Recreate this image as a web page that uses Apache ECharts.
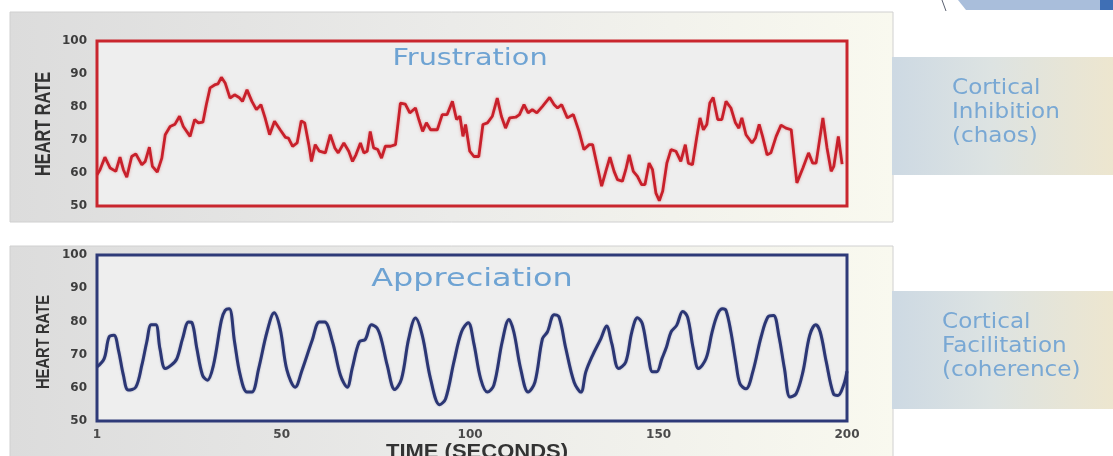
<!DOCTYPE html>
<meta charset="utf-8">
<style>
body { margin: 0; background: #fff; }
#chart { width: 1113px; height: 456px; }
</style>
<body>
<div id="chart"></div>
<script src="https://cdn.jsdelivr.net/npm/echarts@6/dist/echarts.min.js"></script>
<script>
// heart rate (time in seconds, beats per minute)
var frustTime = [1, 1.8, 3.1, 4.5, 6, 7.1, 8, 8.9, 10.2, 11.3, 12.9, 13.8, 14.9, 15.7, 17, 18.2, 19.1, 20.4, 21.7, 22.9,
  23.9, 25.7, 26.9, 27.9, 29.1, 30, 31, 32.4, 33.1, 34, 35, 36.3, 37.5, 38.7, 39.6, 40.8, 42.1, 43.3, 44.5, 45.6,
  46.8, 48.1, 49.6, 51, 51.8, 52.9, 54.1, 55.2, 56.1, 57.2, 57.9, 58.9, 60, 61.6, 62.9, 64.1, 65, 66.5, 67.8, 68.8,
  69.7, 70.9, 71.8, 72.7, 73.5, 74.4, 75.5, 76.5, 77.5, 78.9, 80.2, 81.5, 82.8, 84, 85.5, 86.4, 87.4, 88.4, 89.5, 91.3,
  92.6, 93.9, 95.3, 96.4, 97.3, 98.1, 98.8, 99.9, 101, 102.3, 103.4, 104.6, 105.9, 107.2, 108.3, 109.4, 110.5, 112.1, 113.1, 114.3,
  115.4, 116.5, 117.7, 119.2, 121.1, 122.3, 123.2, 124.3, 125.8, 127.4, 128.9, 130.2, 131.6, 132.5, 134.9, 136, 137.1, 138.2, 139.1, 140.4,
  141.3, 142.2, 143.3, 144.4, 145.5, 146.4, 147.5, 148.4, 149.3, 150.2, 151.1, 152.2, 153.3, 154.6, 155.9, 157.1, 157.9, 159, 160.1, 161,
  161.9, 162.8, 163.6, 164.5, 165.7, 166.8, 167.9, 169.2, 170.4, 171.3, 172.1, 173.2, 174.8, 175.7, 176.7, 177.6, 178.8, 179.8, 181.2, 182.5,
  183.8, 185.2, 186.7, 188.3, 189.8, 190.9, 191.8, 193.6, 194.7, 195.8, 196.5, 197.7, 198.7];
var frustRate = [59.5, 61, 64.8, 61.5, 60.5, 64.8, 61, 58.7, 65, 65.8, 62.5, 63.5, 67.8, 62, 60.3, 64.5, 71.6, 74.1, 74.8, 77.2,
  74.1, 71.1, 76.2, 75.2, 75.4, 80.7, 85.8, 86.8, 87, 89, 87.3, 82.7, 83.7, 82.9, 81.7, 85.2, 81.7, 79.2, 80.7, 76.7,
  71.6, 75.7, 73.1, 70.8, 70.6, 68.1, 69.1, 75.8, 75.2, 68.6, 63.5, 68.6, 66.6, 66.1, 71.6, 67.6, 66.1, 69.1, 66.6, 63.5,
  65.5, 69.1, 66.1, 66.6, 72.6, 67.6, 67.1, 64.5, 68.1, 68.1, 68.6, 81.2, 80.9, 78.2, 79.7, 76.2, 72.6, 75.2, 73.1, 73.1,
  77.7, 77.7, 81.7, 76.2, 77.2, 71.1, 74.7, 66.6, 65, 65, 74.7, 75.2, 77.2, 82.7, 77.2, 73.6, 76.7, 76.9, 77.7, 80.7,
  78.2, 79.2, 78.2, 80.2, 82.9, 80.7, 79.7, 80.7, 76.7, 77.7, 72.6, 67.1, 68.6, 68.6, 56, 60.5, 64.8, 60.5, 58, 57.5,
  61, 65.5, 60.5, 59, 56.5, 56.5, 63, 61, 53.9, 51.6, 54.5, 63, 67.1, 66.6, 63.5, 68.6, 63, 62.5, 70.6, 76.7,
  73.1, 74.7, 81.2, 82.9, 76.2, 76.2, 81.7, 79.7, 75.2, 73.6, 76.7, 71.6, 69.1, 70.6, 74.7, 71.1, 65.5, 66.1, 71.1, 74.5,
  73.6, 73.1, 57, 61.5, 66.1, 63, 63, 76.7, 67.6, 60.5, 62, 71.1, 62.7];

var apprTime = [1, 2.9, 4.2, 5.5, 6.7, 8, 9.3, 11.3, 12.9, 14.2, 15.4, 16.6, 17.7, 19.1, 20.7, 22.2, 23.7, 25.3, 26.2, 27.5,
  29, 30.3, 31.9, 34, 35, 36.1, 37.5, 39, 40.8, 42.1, 43.9, 46.1, 48, 49.6, 51.4, 53.6, 55.4, 58.1, 60, 61.4,
  63.5, 65.6, 67.4, 68.7, 70.6, 72.2, 73.8, 75.3, 76.5, 78, 80, 81.8, 83.7, 85.5, 87.3, 89.5, 91.9, 93.5, 95.7, 97.7,
  99.5, 101, 102.8, 104.6, 106.3, 108.5, 110.3, 111.6, 113.4, 115.4, 117.2, 119.2, 120.5, 122.3, 123.6, 125.4, 127.6, 129.4, 130.7, 132.5,
  134.7, 136.2, 137.6, 139.4, 141.3, 142.9, 144.4, 145.7, 147.1, 148.4, 149.5, 150.9, 152.1, 153.3, 154.8, 156.4, 157.7, 159.2, 160.6, 162.6,
  164.2, 165.7, 167, 167.9, 169.2, 170.5, 171.6, 173.2, 175, 177.2, 179, 180.5, 181.9, 183.4, 184.9, 186.5, 188.3, 190.1, 191.7, 192.9,
  194.5, 196.4, 197.6, 199.1, 200];
var apprRate = [66.3, 68.8, 75.3, 75.8, 71.3, 63.8, 59.3, 60.2, 66.8, 73.8, 79, 79, 71.8, 65.8, 66.8, 68.8, 74.8, 79.8, 79.6, 71.8,
  63.8, 62.3, 66.8, 80.3, 83.3, 83.8, 73.8, 63.8, 58.7, 58.7, 65.8, 76.8, 82.6, 77.8, 65.3, 60.2, 65.3, 74.3, 79.8, 79.8,
  73.8, 63.8, 60.2, 65.8, 73.8, 74.6, 79, 78, 74.3, 66.8, 59.5, 62.7, 74.8, 81, 75.8, 62.7, 54.9, 56.7, 67.8, 76.8,
  79.6, 73.3, 62.7, 58.7, 60.8, 73.8, 80.6, 76.8, 65.8, 58.7, 61.7, 74.8, 76.8, 82, 81.3, 71.8, 61.7, 58.7, 64.8, 69.8,
  74.8, 78.6, 73.3, 65.8, 67.8, 76.8, 81.1, 79.3, 70.8, 64.8, 64.8, 68.8, 72.3, 76.8, 78.8, 83, 81.3, 71.8, 65.8, 68.8,
  76.8, 82.3, 83.8, 83.3, 76.8, 67.8, 61.2, 59.7, 64.8, 75.3, 81.3, 81.8, 75.8, 65.8, 57.2, 58.2, 64.8, 75.8, 79, 76.8,
  67.8, 58.2, 57.7, 60.8, 65];

var timeTicks = [1, 50, 100, 150, 200];
var sideTop = ['Cortical', 'Inhibition', '(chaos)'];
var sideBottom = ['Cortical', 'Facilitation', '(coherence)'];

function pairs(xs, ys) {
  return xs.map(function (x, i) { return [x, ys[i]]; });
}

var chart = echarts.init(document.getElementById('chart'), null, { renderer: 'canvas' });

var panelFill = function () {
  return new echarts.graphic.LinearGradient(0, 0, 1, 0, [
    { offset: 0, color: '#dcdcdc' },
    { offset: 0.5, color: '#ebebe9' },
    { offset: 1, color: '#f9f9ef' }
  ]);
};
var boxFill = function () {
  return new echarts.graphic.LinearGradient(0, 0, 1, 0, [
    { offset: 0, color: '#cdd9e3' },
    { offset: 0.45, color: '#dde3e2' },
    { offset: 1, color: '#ede6cf' }
  ]);
};

var yAxisBase = {
  type: 'value', min: 50, max: 100, interval: 10,
  axisLine: { show: false }, axisTick: { show: false }, splitLine: { show: false },
  axisLabel: { margin: 10, color: '#3d3d3d', fontSize: 12, fontWeight: 'bold', fontFamily: 'DejaVu Sans' }
};

var option = {
  backgroundColor: '#ffffff',
  animation: false,
  grid: [
    { left: 97, top: 41, width: 750, height: 165, show: true, backgroundColor: '#eeeeee',
      borderColor: '#c9262e', borderWidth: 3 },
    { left: 97, top: 255, width: 750, height: 166, show: true, backgroundColor: '#eeeeee',
      borderColor: '#2e3a78', borderWidth: 3 }
  ],
  xAxis: [
    { type: 'value', gridIndex: 0, min: 1, max: 200,
      axisLine: { show: false }, axisTick: { show: false }, axisLabel: { show: false }, splitLine: { show: false } },
    { type: 'value', gridIndex: 1, min: 1, max: 200,
      axisLine: { show: false }, axisTick: { show: false }, splitLine: { show: false },
      axisLabel: { customValues: timeTicks, margin: 8, color: '#4a4a4a', fontSize: 12, fontWeight: 'bold',
        fontFamily: 'DejaVu Sans' } }
  ],
  yAxis: [
    Object.assign({ gridIndex: 0 }, yAxisBase),
    Object.assign({ gridIndex: 1 }, yAxisBase)
  ],
  series: [
    { type: 'line', xAxisIndex: 0, yAxisIndex: 0, data: pairs(frustTime, frustRate), showSymbol: false,
      lineStyle: { color: '#c8202b', width: 2.8, shadowBlur: 3, shadowColor: 'rgba(215,70,70,0.5)' } },
    { type: 'line', xAxisIndex: 1, yAxisIndex: 1, data: pairs(apprTime, apprRate), showSymbol: false, smooth: 0.35,
      lineStyle: { color: '#2b3674', width: 3, shadowBlur: 2, shadowColor: 'rgba(60,70,130,0.4)' } }
  ],
  graphic: [
    { type: 'rect', z: -10, shape: { x: 10, y: 12, width: 883, height: 210 },
      style: { fill: panelFill(), stroke: '#d0d0d0', lineWidth: 1 } },
    { type: 'rect', z: -10, shape: { x: 10, y: 246, width: 883, height: 215 },
      style: { fill: panelFill(), stroke: '#d0d0d0', lineWidth: 1 } },
    { type: 'rect', z: -10, shape: { x: 892, y: 57, width: 221, height: 118 }, style: { fill: boxFill() } },
    { type: 'rect', z: -10, shape: { x: 892, y: 291, width: 221, height: 118 }, style: { fill: boxFill() } },
    { type: 'text', x: 952, y: 77, scaleX: 1.1, style: { text: sideTop.join('\n'), fill: '#79a8d4',
      font: '21px "DejaVu Sans"', lineHeight: 24, textVerticalAlign: 'top' } },
    { type: 'text', x: 942, y: 311, scaleX: 1.1, style: { text: sideBottom.join('\n'), fill: '#79a8d4',
      font: '21px "DejaVu Sans"', lineHeight: 24, textVerticalAlign: 'top' } },
    { type: 'text', x: 470, y: 59, z: 10, scaleX: 1.25, style: { text: 'Frustration', fill: '#6ea3d3',
      font: '23px "DejaVu Sans"', textAlign: 'center', textVerticalAlign: 'middle' } },
    { type: 'text', x: 472, y: 280, z: 10, scaleX: 1.33, style: { text: 'Appreciation', fill: '#6ea3d3',
      font: '24px "DejaVu Sans"', textAlign: 'center', textVerticalAlign: 'middle' } },
    { type: 'text', x: 44, y: 124, rotation: Math.PI / 2, scaleX: 0.86, scaleY: 1.12, style: { text: 'HEART RATE',
      fill: '#333', font: 'bold 19px "Liberation Sans"', textAlign: 'center', textVerticalAlign: 'middle' } },
    { type: 'text', x: 44, y: 342, rotation: Math.PI / 2, scaleX: 0.87, scaleY: 1.12, style: { text: 'HEART RATE',
      fill: '#333', font: 'bold 17px "Liberation Sans"', textAlign: 'center', textVerticalAlign: 'middle' } },
    { type: 'text', x: 477, y: 452, scaleX: 1.1, style: { text: 'TIME (SECONDS)', fill: '#333',
      font: 'bold 20px "Liberation Sans"', textAlign: 'center', textVerticalAlign: 'middle' } },
    // corner decoration, top right
    { type: 'line', shape: { x1: 942, y1: 0, x2: 946, y2: 11 }, style: { stroke: '#5a6070', lineWidth: 1 } },
    { type: 'polygon', shape: { points: [[958, 0], [1102, 0], [1102, 10], [966, 10]] }, style: { fill: '#a9bedb' } },
    { type: 'rect', shape: { x: 1100, y: 0, width: 13, height: 10 }, style: { fill: '#3f6fb5' } }
  ]
};

chart.setOption(option);
window.addEventListener('resize', chart.resize);
</script>
</body>
